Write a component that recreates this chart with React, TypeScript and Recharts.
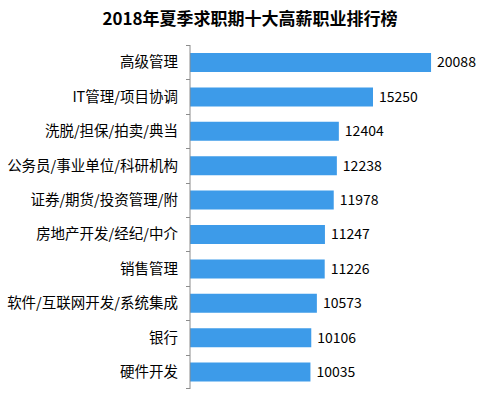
import { Bar, BarChart, LabelList, XAxis, YAxis } from "recharts";

const jobs = [
    "高级管理",
    "IT管理/项目协调",
    "洗脱/担保/拍卖/典当",
    "公务员/事业单位/科研机构",
    "证券/期货/投资管理/附",
    "房地产开发/经纪/中介",
    "销售管理",
    "软件/互联网开发/系统集成",
    "银行",
    "硬件开发",
];

const salaries = [20088, 15250, 12404, 12238, 11978, 11247, 11226, 10573, 10106, 10035];

const chartData = jobs.map((name, i) => ({
    name,
    salary: salaries[i],
}));

const FONT = '"Noto Sans CJK SC", sans-serif';
const AXIS_GREY = "#8c8c8c";

const W = 500;
const H = 399;
const MARGIN = { top: 45, right: 10, bottom: 10, left: 0 };
const AXIS_W = 190;
const HALF_BAND = (H - MARGIN.top - MARGIN.bottom) / jobs.length / 2;

// label plus the little marks between categories
function JobTick(props: any) {
    const { x, y, payload, index } = props;
    const last = index === jobs.length - 1;
    const axisX = MARGIN.left + AXIS_W;
    const top = Math.round(y - HALF_BAND);
    const bottom = Math.round(y + HALF_BAND);
    return (
        <g>
            <text
                x={x}
                y={y}
                dy="0.36em"
                textAnchor="end"
                fill="#000000"
                fontSize={14.5}
                fontFamily={FONT}
            >
                {payload.value}
            </text>
            <rect x={axisX - 4} y={top} width={4} height={1} fill={AXIS_GREY} />
            {last && (
                <rect x={axisX - 4} y={bottom - 1} width={4} height={1} fill={AXIS_GREY} />
            )}
        </g>
    );
}

export default function App() {
    return (
        <div
            style={{
                position: "absolute",
                left: 0,
                top: 0,
                width: W,
                height: H,
                background: "#ffffff",
            }}
        >
            <div
                style={{
                    position: "absolute",
                    left: 0,
                    top: 5,
                    width: W,
                    textAlign: "center",
                    fontFamily: FONT,
                    fontWeight: 700,
                    fontSize: 17,
                    color: "#000000",
                    lineHeight: "26px",
                }}
            >
                2018年夏季求职期十大高薪职业排行榜
            </div>

            <BarChart
                width={W}
                height={H}
                data={chartData}
                layout="vertical"
                margin={MARGIN}
            >
                <XAxis type="number" domain={[0, 25000]} hide />
                <YAxis
                    type="category"
                    dataKey="name"
                    width={AXIS_W}
                    axisLine={{ stroke: AXIS_GREY }}
                    tickLine={false}
                    tickSize={4}
                    tickMargin={8}
                    interval={0}
                    tick={(p: any) => <JobTick {...p} />}
                />
                <Bar
                    dataKey="salary"
                    fill="#3d9be9"
                    barSize={19}
                    isAnimationActive={false}
                >
                    <LabelList
                        dataKey="salary"
                        position="right"
                        offset={6}
                        style={{
                            fill: "#000000",
                            fontSize: 14,
                            fontFamily: FONT,
                        }}
                    />
                </Bar>
            </BarChart>
        </div>
    );
}
